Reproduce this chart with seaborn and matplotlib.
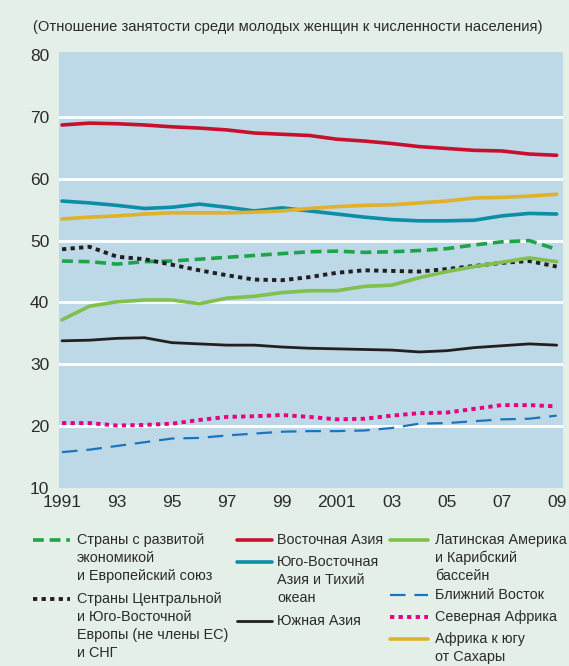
import numpy as np
import pandas as pd
import matplotlib.pyplot as plt
import seaborn as sns
from matplotlib.lines import Line2D

years = list(range(1991, 2010))
year_labels = ['1991', '', '93', '', '95', '', '97', '', '99', '', '2001', '', '03', '', '05', '', '07', '', '09']

east_asia = [68.7, 69.0, 68.9, 68.7, 68.4, 68.2, 67.9, 67.4, 67.2, 67.0, 66.4, 66.1, 65.7, 65.2, 64.9, 64.6, 64.5, 64.0, 63.8]
se_asia = [56.4, 56.1, 55.7, 55.2, 55.4, 55.9, 55.4, 54.8, 55.3, 54.8, 54.3, 53.8, 53.4, 53.2, 53.2, 53.3, 54.0, 54.4, 54.3]
ssa = [53.5, 53.8, 54.0, 54.3, 54.5, 54.5, 54.5, 54.6, 54.8, 55.2, 55.5, 55.7, 55.8, 56.1, 56.4, 56.9, 57.0, 57.2, 57.5]
developed = [46.7, 46.6, 46.2, 46.6, 46.7, 47.0, 47.3, 47.6, 47.9, 48.2, 48.3, 48.1, 48.2, 48.4, 48.7, 49.3, 49.8, 50.0, 48.6]
cee_cis = [48.6, 49.0, 47.4, 47.0, 46.1, 45.2, 44.4, 43.7, 43.6, 44.1, 44.8, 45.2, 45.1, 45.0, 45.4, 45.9, 46.4, 46.7, 45.8]
latam = [37.2, 39.4, 40.1, 40.4, 40.4, 39.8, 40.7, 41.0, 41.6, 41.9, 41.9, 42.6, 42.8, 44.0, 45.0, 45.8, 46.5, 47.2, 46.6]
south_asia = [33.8, 33.9, 34.2, 34.3, 33.5, 33.3, 33.1, 33.1, 32.8, 32.6, 32.5, 32.4, 32.3, 32.0, 32.2, 32.7, 33.0, 33.3, 33.1]
north_africa = [20.5, 20.5, 20.1, 20.2, 20.4, 21.0, 21.5, 21.6, 21.8, 21.5, 21.1, 21.2, 21.7, 22.1, 22.2, 22.8, 23.4, 23.4, 23.2]
middle_east = [15.8, 16.2, 16.8, 17.4, 18.0, 18.1, 18.5, 18.8, 19.1, 19.2, 19.2, 19.3, 19.7, 20.4, 20.5, 20.8, 21.1, 21.2, 21.7]

lbl_dev = 'Страны с развитой\nэкономикой\nи Европейский союз'
lbl_cee = 'Страны Центральной\nи Юго-Восточной\nЕвропы (не члены ЕС)\nи СНГ'
lbl_ea = 'Восточная Азия'
lbl_sea = 'Юго-Восточная\nАзия и Тихий\nокеан'
lbl_sa = 'Южная Азия'
lbl_la = 'Латинская Америка\nи Карибский\nбассейн'
lbl_me = 'Ближний Восток'
lbl_na = 'Северная Африка'
lbl_ssa = 'Африка к югу\nот Сахары'

subtitle = '(Отношение занятости среди молодых женщин к численности населения)'

sns.set_theme(style='white')
plt.rcParams['font.family'] = ['Liberation Sans', 'DejaVu Sans']
txt_color = '#2b2b2b'

W, H = 569, 666
fig = plt.figure(figsize=(W / 100, H / 100), dpi=100)
fig.patch.set_facecolor('#e4efe8')
ax = fig.add_axes([59 / W, 1 - 488 / H, 504 / W, 436 / H])
ax.set_facecolor('#bdd8e7')

for g in [20, 30, 40, 50, 60, 70]:
    ax.axhline(g, color='white', lw=2, zorder=1)

series = [
    (lbl_ea, east_asia, '#c8102e', 2.6, '-'),
    (lbl_sea, se_asia, '#0b8ea6', 2.6, '-'),
    (lbl_ssa, ssa, '#e0b22a', 2.6, '-'),
    (lbl_dev, developed, '#1da34a', 2.6, (0, (3, 1.6))),
    (lbl_cee, cee_cis, '#231f20', 2.8, (0, (1.1, 1.1))),
    (lbl_la, latam, '#80c04c', 2.6, '-'),
    (lbl_sa, south_asia, '#231f20', 2.0, '-'),
    (lbl_na, north_africa, '#e6007e', 2.8, (0, (1.1, 1.1))),
    (lbl_me, middle_east, '#1c75bc', 1.6, (0, (7, 4))),
]

styles = {}
for label, vals, color, lw, ls in series:
    df = pd.DataFrame({'year': years, 'value': vals})
    sns.lineplot(data=df, x='year', y='value', color=color, lw=lw,
                 linestyle=ls, legend=False, ax=ax, zorder=3)
    styles[label] = (color, lw, ls)

ax.set_xlim(1990.89, 2009.23)
ax.set_ylim(10, 80.5)
ax.set_yticks([10, 20, 30, 40, 50, 60, 70, 80])
ax.set_xticks(years)
ax.set_xticklabels(year_labels)
ax.set_xlabel('')
ax.set_ylabel('')
for s in ax.spines.values():
    s.set_visible(False)
ax.tick_params(axis='y', length=0, pad=7, labelsize=12.5, labelcolor=txt_color)
ax.tick_params(axis='x', direction='in', length=8, width=1.2, color=txt_color,
               pad=5, labelsize=12.5, labelcolor=txt_color)

fig.text(33 / W, 1 - 27 / H, subtitle, fontsize=10.6, color=txt_color,
         va='center', ha='left')

# legend: three columns, key drawn at the first text line
legend_cols = [
    (33, 70, 77, [(lbl_dev, 540), (lbl_cee, 599)]),
    (237, 272, 277, [(lbl_ea, 540), (lbl_sea, 562), (lbl_sa, 621)]),
    (390, 428, 435, [(lbl_la, 540), (lbl_me, 595), (lbl_na, 617), (lbl_ssa, 639)]),
]
line_px = 18
for x1, x2, xt, entries in legend_cols:
    for label, y in entries:
        color, lw, ls = styles[label]
        fig.add_artist(Line2D([x1 / W, x2 / W], [1 - y / H, 1 - y / H],
                              color=color, lw=lw, linestyle=ls,
                              transform=fig.transFigure))
        for i, part in enumerate(label.split('\n')):
            fig.text(xt / W, 1 - (y + i * line_px) / H, part, fontsize=10.4,
                     color=txt_color, va='center', ha='left')

fig.savefig('out.png', dpi=100, facecolor=fig.get_facecolor())
